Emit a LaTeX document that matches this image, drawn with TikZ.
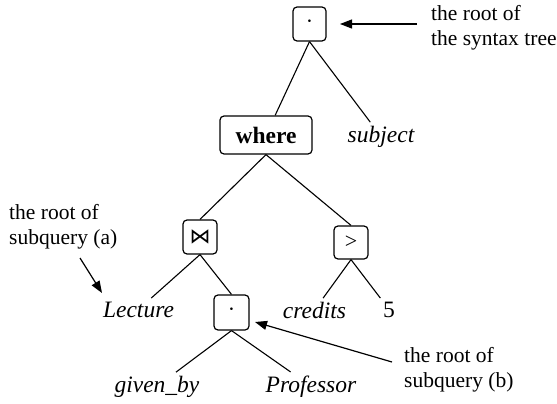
\documentclass[tikz,border=0pt]{standalone}
\usepackage{fontspec}
\setmainfont{Liberation Serif}
\newfontfamily\symfont{DejaVu Sans}
\usetikzlibrary{arrows.meta}
\begin{document}
\begin{tikzpicture}[x=1pt,y=-1pt,
  opbox/.style={draw, line width=1.2pt, rounded corners=4pt,
    minimum width=34pt, minimum height=34pt, inner sep=0pt},
  leaf/.style={font=\fontsize{23.5}{28}\selectfont\itshape, anchor=base},
  note/.style={font=\fontsize{21.5}{25}\selectfont, align=left,
    anchor=north west, inner sep=0pt},
  edge/.style={line width=1.1pt},
  pointer/.style={line width=1.2pt, -{Triangle[length=12pt,width=9pt]}}
]
\useasboundingbox (0,0) rectangle (557,404);

% operator boxes
\node[opbox, minimum width=33pt] (root) at (309.5,24) {\fontsize{22}{25}\selectfont ·};
\node[opbox, minimum width=92pt, minimum height=38pt] (where) at (266,135)
  {\fontsize{23.5}{28}\selectfont\bfseries where};
\node[opbox] (join) at (200,237) {\symfont\fontsize{21}{24}\selectfont ⋈};
\node[opbox, minimum height=33pt] (gt) at (351,242.5) {\fontsize{22}{25}\selectfont >};
\node[opbox, minimum size=35pt] (sel) at (231.5,312.5) {\fontsize{22}{25}\selectfont ·};

% leaves
\node[leaf] (subj) at (381,142) {subject};
\node[leaf] (lect) at (138.5,317) {Lecture};
\node[leaf] (cred) at (314.5,318) {credits};
\node[leaf, font=\fontsize{23.5}{28}\selectfont] (five) at (389,317) {5};
\node[leaf] (given) at (157,392) {given\_by};
\node[leaf] (prof) at (311,392) {Professor};

% tree edges
\draw[edge] (root.south) -- (where);
\draw[edge] (root.south) -- (subj);
\draw[edge] (where.south) -- (join.north);
\draw[edge] (where.south) -- (gt.north);
\draw[edge] (join.south) -- (lect);
\draw[edge] (join.south) -- (sel.north);
\draw[edge] (gt.south) -- (cred);
\draw[edge] (gt.south) -- (five);
\draw[edge] (sel.south) -- (given);
\draw[edge] (sel.south) -- (prof);

% annotations
\node[note] (n1) at (431,5.4) {the root of\\the syntax tree};
\node[note] (na) at (9,204.4) {the root of\\subquery (a)};
\node[note] (nb) at (404,347.4) {the root of\\subquery (b)};

\coordinate (p1s) at (417,24);  \coordinate (p1t) at (340,24);
\coordinate (pas) at (80,258);  \coordinate (pat) at (102,293);
\coordinate (pbs) at (392,362); \coordinate (pbt) at (255,322);
\draw[pointer] (p1s) -- (p1t);
\draw[pointer] (pas) -- (pat);
\draw[pointer] (pbs) -- (pbt);
\end{tikzpicture}
\end{document}
